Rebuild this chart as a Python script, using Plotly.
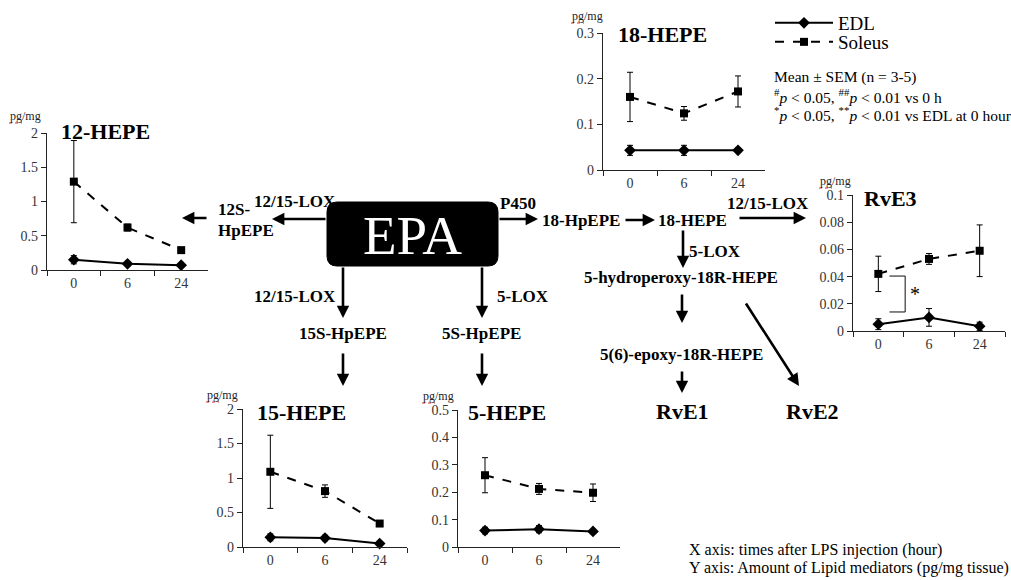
import plotly.graph_objects as go

W, H = 1011, 580

# ---------------- data ----------------
categories = ['0', '6', '24']

hepe12_edl = [0.15, 0.09, 0.07]
hepe12_edl_err = [0.06, 0.02, 0.01]
hepe12_sol = [1.29, 0.62, 0.29]
hepe12_sol_err = [0.60, 0.05, 0.03]

hepe18_edl = [0.043, 0.043, 0.043]
hepe18_edl_err = [0.011, 0.011, 0.003]
hepe18_sol = [0.160, 0.124, 0.172]
hepe18_sol_err = [0.054, 0.015, 0.034]

rve3_edl = [0.005, 0.010, 0.0035]
rve3_edl_err = [0.004, 0.0065, 0.003]
rve3_sol = [0.042, 0.053, 0.059]
rve3_sol_err = [0.013, 0.004, 0.019]

hepe15_edl = [0.14, 0.13, 0.05]
hepe15_edl_err = [0.05, 0.04, 0.01]
hepe15_sol = [1.09, 0.81, 0.34]
hepe15_sol_err = [0.53, 0.09, 0.03]

hepe5_edl = [0.060, 0.065, 0.057]
hepe5_edl_err = [0.012, 0.013, 0.004]
hepe5_sol = [0.262, 0.212, 0.198]
hepe5_sol_err = [0.064, 0.020, 0.032]

series_names = ['EDL', 'Soleus']
panel_titles = ['12-HEPE', '18-HEPE', 'RvE3', '15-HEPE', '5-HEPE']
y_max = [2, 0.3, 0.1, 2, 0.5]
y_dtick = [0.5, 0.1, 0.02, 0.5, 0.1]
unit_label = 'pg/mg'

# ---------------- helpers ----------------
def X(p):
    return p / W

def Y(p):
    return 1 - p / H

SERIF = '"Times New Roman", "Liberation Serif", Tinos, serif'

# layout geometry of panels (pixels): x0, x1, y_bottom, y_top, title y, unit x, unit y
geom = [
    (47, 208, 270, 133, 131, 25, 116),
    (603, 765, 170, 33, 34, 587, 16),
    (853, 1005, 331, 195, 198, 835, 181),
    (243, 407, 547, 409, 412, 222, 395),
    (458, 620, 547, 410, 412, 438, 396),
]
title_x = [105, 662, 890, 301, 507]

data_sets = [
    (hepe12_edl, hepe12_edl_err, hepe12_sol, hepe12_sol_err),
    (hepe18_edl, hepe18_edl_err, hepe18_sol, hepe18_sol_err),
    (rve3_edl, rve3_edl_err, rve3_sol, rve3_sol_err),
    (hepe15_edl, hepe15_edl_err, hepe15_sol, hepe15_sol_err),
    (hepe5_edl, hepe5_edl_err, hepe5_sol, hepe5_sol_err),
]

fig = go.Figure()
leg_common = dict(xanchor='left', yanchor='middle',
                  font=dict(family=SERIF, size=19, color='black'),
                  itemwidth=58, bgcolor='rgba(0,0,0,0)', tracegroupgap=0,
                  itemclick=False, itemdoubleclick=False)
layout = dict(
    width=W, height=H, margin=dict(l=0, r=0, t=0, b=0, pad=0, autoexpand=False),
    paper_bgcolor='white', plot_bgcolor='white',
    font=dict(family=SERIF, color='black'),
    showlegend=True,
    legend=dict(x=X(770), y=Y(23), **leg_common),
    legend2=dict(x=X(770), y=Y(42), **leg_common),
)
annotations = []
shapes = []

for i, (g, d) in enumerate(zip(geom, data_sets)):
    x0, x1, yb, yt, ty, ux, uy = g
    tx = title_x[i]
    edl, edl_e, sol, sol_e = d
    n = i + 1
    xa = 'x' if n == 1 else f'x{n}'
    ya = 'y' if n == 1 else f'y{n}'
    xk = 'xaxis' if n == 1 else f'xaxis{n}'
    yk = 'yaxis' if n == 1 else f'yaxis{n}'
    layout[xk] = dict(domain=[X(x0), X(x1)], anchor=ya, type='category',
                      categoryorder='array', categoryarray=categories,
                      range=[-0.5, 2.5], tickson='boundaries', ticks='outside',
                      ticklen=5, tickcolor='#222', showline=True, linecolor='#222',
                      linewidth=1.3, showgrid=False, zeroline=False, automargin=False,
                      tickfont=dict(family=SERIF, size=14, color='#333'),
                      fixedrange=True)
    layout[yk] = dict(domain=[Y(yb), Y(yt)], anchor=xa, range=[0, y_max[i]],
                      dtick=y_dtick[i], tick0=0, ticks='outside', ticklen=5,
                      tickcolor='#222', showline=True, linecolor='#222',
                      linewidth=1.3, showgrid=False, zeroline=False, automargin=False,
                      tickfont=dict(family=SERIF, size=14, color='#333'),
                      fixedrange=True)
    fig.add_trace(go.Scatter(
        x=categories, y=edl, xaxis=xa, yaxis=ya, name=series_names[0],
        mode='lines+markers', line=dict(color='black', width=2),
        marker=dict(symbol='diamond', size=9, color='black'),
        error_y=dict(type='data', array=edl_e, visible=True, color='black',
                     thickness=1, width=3),
        showlegend=(i == 0), legend='legend', cliponaxis=False))
    fig.add_trace(go.Scatter(
        x=categories, y=sol, xaxis=xa, yaxis=ya, name=series_names[1],
        mode='lines+markers', line=dict(color='black', width=2, dash='dash'),
        marker=dict(symbol='square', size=8, color='black'),
        error_y=dict(type='data', array=sol_e, visible=True, color='black',
                     thickness=1, width=3),
        showlegend=(i == 0), legend='legend2', cliponaxis=False))
    annotations.append(dict(xref='paper', yref='paper', x=X(tx), y=Y(ty),
                            text=f'<b>{panel_titles[i]}</b>', showarrow=False,
                            font=dict(family=SERIF, size=22, color='black'),
                            xanchor='center', yanchor='middle'))
    annotations.append(dict(xref='paper', yref='paper', x=X(ux), y=Y(uy),
                            text=unit_label, showarrow=False,
                            font=dict(family=SERIF, size=12, color='#222'),
                            xanchor='center', yanchor='middle'))
    # red spell-check squiggle under "pg"
    shapes.append(dict(type='line', xref='paper', yref='paper',
                       x0=X(ux - 16), x1=X(ux - 3), y0=Y(uy + 7), y1=Y(uy + 7),
                       line=dict(color='#e03030', width=1, dash='dot')))

# significance bracket in RvE3 panel (data coords of that panel)
br_x0, br_x1 = 0.22, 0.53
br_y0, br_y1 = 0.0404, 0.014
for (a, b, c, e) in [(br_x0, br_y0, br_x1, br_y0), (br_x1, br_y0, br_x1, br_y1),
                     (br_x1, br_y1, br_x0, br_y1)]:
    shapes.append(dict(type='line', xref='x3', yref='y3', x0=a, y0=b, x1=c, y1=e,
                       line=dict(color='#333', width=1.2)))
annotations.append(dict(xref='x3', yref='y3', x=0.72, y=0.0275, text='*',
                        showarrow=False, font=dict(family=SERIF, size=20, color='black'),
                        xanchor='center', yanchor='middle'))

# EPA box (rounded rectangle)
bx0, bx1, by0, by1, r = 327, 498, 202, 266, 10
def P(px, py):
    return f'{X(px)},{Y(py)}'
path = (f'M {P(bx0 + r, by0)} L {P(bx1 - r, by0)} Q {P(bx1, by0)} {P(bx1, by0 + r)} '
        f'L {P(bx1, by1 - r)} Q {P(bx1, by1)} {P(bx1 - r, by1)} '
        f'L {P(bx0 + r, by1)} Q {P(bx0, by1)} {P(bx0, by1 - r)} '
        f'L {P(bx0, by0 + r)} Q {P(bx0, by0)} {P(bx0 + r, by0)} Z')
shapes.append(dict(type='path', xref='paper', yref='paper', path=path,
                   fillcolor='black', line=dict(color='black', width=1)))
annotations.append(dict(xref='paper', yref='paper', x=X(412), y=Y(236), text='EPA',
                        showarrow=False, font=dict(family=SERIF, size=55, color='white'),
                        xanchor='center', yanchor='middle'))

# pathway labels: text, x, y, anchor, size
labels = [
    ('12/15-LOX', 295, 202, 'center', 17),
    ('12S-', 216, 209, 'left', 17),
    ('HpEPE', 216, 231, 'left', 17),
    ('P450', 498, 203, 'left', 17),
    ('18-HpEPE', 581, 220, 'center', 17),
    ('18-HEPE', 692, 220, 'center', 17),
    ('12/15-LOX', 768, 203, 'center', 17),
    ('5-LOX', 687, 251, 'left', 17),
    ('5-hydroperoxy-18R-HEPE', 681, 277, 'center', 17),
    ('5(6)-epoxy-18R-HEPE', 681, 354, 'center', 17),
    ('RvE1', 682, 411, 'center', 22),
    ('RvE2', 812, 411, 'center', 22),
    ('12/15-LOX', 295, 296, 'center', 17),
    ('5-LOX', 495, 296, 'left', 17),
    ('15S-HpEPE', 343, 333, 'center', 17),
    ('5S-HpEPE', 481, 333, 'center', 17),
]
for t, lx, ly, anc, sz in labels:
    annotations.append(dict(xref='paper', yref='paper', x=X(lx), y=Y(ly),
                            text=f'<b>{t}</b>', showarrow=False,
                            font=dict(family=SERIF, size=sz, color='black'),
                            xanchor=anc, yanchor='middle'))

# arrows: tail -> head
arrows = [
    ((327, 219), (272, 219)),
    ((208, 218), (182, 218)),
    ((498, 219), (538, 219)),
    ((624, 220), (655, 220)),
    ((738, 218), (806, 218)),
    ((683, 229), (683, 268)),
    ((682, 293), (682, 323)),
    ((745, 302), (799, 386)),
    ((682, 370), (682, 393)),
    ((343, 266), (343, 318)),
    ((482, 266), (482, 318)),
    ((343, 352), (343, 386)),
    ((482, 352), (482, 386)),
]
for (tx_, ty_), (hx, hy) in arrows:
    annotations.append(dict(xref='paper', yref='paper', x=X(hx), y=Y(hy),
                            ax=tx_ - hx, ay=ty_ - hy, axref='pixel', ayref='pixel',
                            text='', showarrow=True, arrowhead=2, arrowsize=0.95,
                            arrowwidth=2.6, arrowcolor='black', standoff=0,
                            startstandoff=0))

# stats text
stats = [
    ('Mean ± SEM (n = 3-5)', 77),
    ('<sup>#</sup><i>p</i> &lt; 0.05, <sup>##</sup><i>p</i> &lt; 0.01 vs 0 h', 96),
    ('<sup>*</sup><i>p</i> &lt; 0.05, <sup>**</sup><i>p</i> &lt; 0.01 vs EDL at 0 hour', 114),
]
for t, sy in stats:
    annotations.append(dict(xref='paper', yref='paper', x=X(772), y=Y(sy), text=t,
                            showarrow=False, font=dict(family=SERIF, size=15.5, color='black'),
                            xanchor='left', yanchor='middle'))

notes = [
    ('X axis: times after LPS injection (hour)', 550),
    ('Y axis: Amount of Lipid mediators (pg/mg tissue)', 568),
]
for t, sy in notes:
    annotations.append(dict(xref='paper', yref='paper', x=X(687), y=Y(sy), text=t,
                            showarrow=False, font=dict(family=SERIF, size=16, color='black'),
                            xanchor='left', yanchor='middle'))

layout['annotations'] = annotations
layout['shapes'] = shapes
fig.update_layout(**layout)
fig.write_html('out.html', config={'displayModeBar': False},
               post_script="document.body.style.margin='0';document.body.style.padding='0';")
